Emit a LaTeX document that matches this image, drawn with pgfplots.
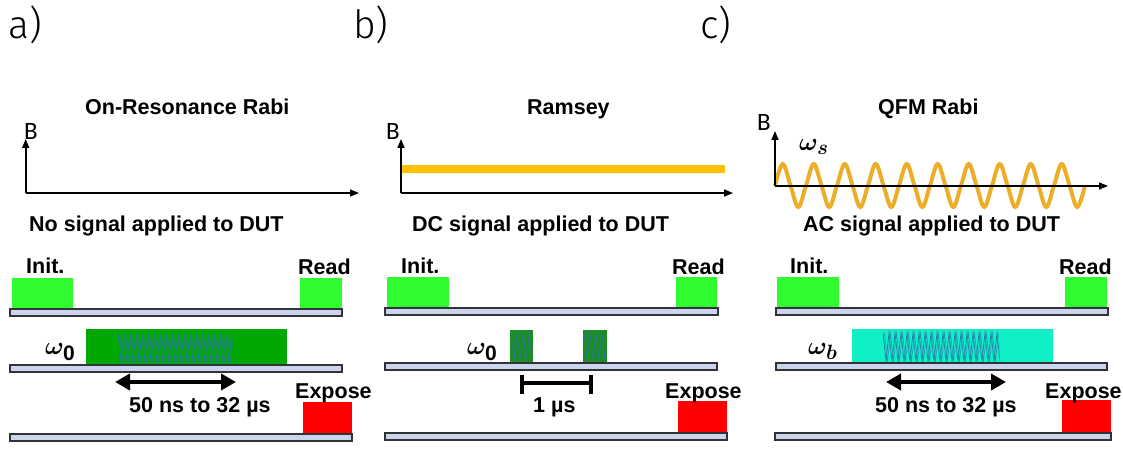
\documentclass[border=0pt]{standalone}
\usepackage{pgfplots}
\pgfplotsset{compat=1.18}
\usepackage{bm}
\usepackage{fontspec}
\setmainfont{Liberation Sans}
\newfontfamily\lightfont{Fira Sans Light}
\newfontfamily\bfont{Carlito}
\usetikzlibrary{arrows.meta}
\definecolor{ledg}{RGB}{48,250,48}
\definecolor{mwg}{RGB}{0,168,0}
\definecolor{mwc}{RGB}{16,240,198}
\definecolor{ramg}{RGB}{28,140,36}
\definecolor{osc}{RGB}{40,120,170}
\definecolor{barf}{RGB}{203,214,238}
\definecolor{bare}{RGB}{50,50,55}
\definecolor{dcor}{RGB}{255,192,0}
\definecolor{acor}{RGB}{236,174,40}
\newcommand\bt{\fontsize{21.5}{25}\selectfont\bfseries}
\newcommand\om{\fontsize{30}{34}\selectfont}
\newcommand\bb{\bfont\fontsize{25}{27}\selectfont B}
\begin{document}
\begin{tikzpicture}
\begin{axis}[hide axis, scale only axis, width=1123pt, height=449pt,
  xmin=0, xmax=1123, ymin=0, ymax=449, y dir=reverse, clip=false]
\addplot[draw=none] coordinates {(0,0) (1123,449)};
% panel labels
\node[anchor=base west, inner sep=0] at (axis cs:8,39) {\lightfont\fontsize{39}{42}\selectfont a)};
\node[anchor=base west, inner sep=0] at (axis cs:353,39) {\lightfont\fontsize{39}{42}\selectfont b)};
\node[anchor=base west, inner sep=0] at (axis cs:700,39) {\lightfont\fontsize{39}{42}\selectfont c)};
% titles
\node[anchor=base west, inner sep=0] at (axis cs:85,115) {\bt On-Resonance Rabi};
\node[anchor=base west, inner sep=0] at (axis cs:527,115) {\bt Ramsey};
\node[anchor=base west, inner sep=0] at (axis cs:878,115) {\bt QFM Rabi};
% B axes
\addplot[black, line width=1.6pt, -{Triangle[length=9pt,width=7pt]}] coordinates {(25.7,193) (25.7,139)};
\addplot[black, line width=1.6pt, -{Triangle[length=9pt,width=7pt]}] coordinates {(25.7,193) (359,193)};
\addplot[dcor, line width=8pt] coordinates {(401,169) (725,169)};
\addplot[black, line width=1.6pt, -{Triangle[length=9pt,width=7pt]}] coordinates {(401,193) (401,139)};
\addplot[black, line width=1.6pt, -{Triangle[length=9pt,width=7pt]}] coordinates {(401,193) (733,193)};
\addplot[acor, line width=4pt, smooth, tension=0.6] coordinates {
(775,185.5) (782.75,164) (790.5,185.5) (798.25,207) (806,185.5) (813.75,164) (821.5,185.5) (829.25,207)
(837,185.5) (844.75,164) (852.5,185.5) (860.25,207) (868,185.5) (875.75,164) (883.5,185.5) (891.25,207)
(899,185.5) (906.75,164) (914.5,185.5) (922.25,207) (930,185.5) (937.75,164) (945.5,185.5) (953.25,207)
(961,185.5) (968.75,164) (976.5,185.5) (984.25,207) (992,185.5) (999.75,164) (1007.5,185.5) (1015.25,207)
(1023,185.5) (1030.75,164) (1038.5,185.5) (1046.25,207) (1054,185.5) (1061.75,164) (1069.5,185.5) (1077.25,207)
(1085,185.5)};
\addplot[black, line width=1.6pt, -{Triangle[length=9pt,width=7pt]}] coordinates {(775,186) (775,131)};
\addplot[black, line width=1.6pt, -{Triangle[length=9pt,width=7pt]}] coordinates {(775,186) (1108,186)};
\node[anchor=base west, inner sep=0] at (axis cs:24,140) {\bb};
\node[anchor=base west, inner sep=0] at (axis cs:386,140) {\bb};
\node[anchor=base west, inner sep=0] at (axis cs:757,131) {\bb};
\node[anchor=base west, inner sep=0] at (axis cs:799,151) {\om$\bm{\omega}_{\bm{s}}$};
% subtitles
\node[anchor=base west, inner sep=0] at (axis cs:29,231) {\bt No signal applied to DUT};
\node[anchor=base west, inner sep=0] at (axis cs:412,231) {\bt DC signal applied to DUT};
\node[anchor=base west, inner sep=0] at (axis cs:803,231) {\bt AC signal applied to DUT};
% ---------- panel a sequence
\addplot[fill=ledg, draw=none] coordinates {(12,278) (73,278) (73,309) (12,309)} --cycle;
\addplot[fill=ledg, draw=none] coordinates {(300,278) (342,278) (342,309) (300,309)} --cycle;
\addplot[fill=barf, draw=bare, line width=1.4pt] coordinates {(10,309) (342,309) (342,316) (10,316)} --cycle;
\addplot[fill=mwg, draw=none] coordinates {(86,329) (287,329) (287,365) (86,365)} --cycle;
\addplot[osc, line width=0.7pt] coordinates {(118,333)(121,362)(124,333)(127,362)(130,333)(133,362)(136,333)(139,362)(142,333)(145,362)(148,333)(151,362)(154,333)(157,362)(160,333)(163,362)(166,333)(169,362)(172,333)(175,362)(178,333)(181,362)(184,333)(187,362)(190,333)(193,362)(196,333)(199,362)(202,333)(205,362)(208,333)(211,362)(214,333)(217,362)(220,333)(223,362)(226,333)(229,362)(232,333)};
\addplot[osc!70!mwg, line width=0.6pt, xshift=1.5pt] coordinates {(118,333)(121,362)(124,333)(127,362)(130,333)(133,362)(136,333)(139,362)(142,333)(145,362)(148,333)(151,362)(154,333)(157,362)(160,333)(163,362)(166,333)(169,362)(172,333)(175,362)(178,333)(181,362)(184,333)(187,362)(190,333)(193,362)(196,333)(199,362)(202,333)(205,362)(208,333)(211,362)(214,333)(217,362)(220,333)(223,362)(226,333)(229,362)(232,333)};
\addplot[fill=barf, draw=bare, line width=1.4pt] coordinates {(10,365) (342,365) (342,372) (10,372)} --cycle;
\addplot[black, line width=4.5pt, {Triangle[length=15pt,width=16pt]}-{Triangle[length=15pt,width=16pt]}] coordinates {(115,382) (236,382)};
\addplot[fill=red, draw=none] coordinates {(303,402) (352,402) (352,434) (303,434)} --cycle;
\addplot[fill=barf, draw=bare, line width=1.4pt] coordinates {(10,434) (352,434) (352,441) (10,441)} --cycle;
\node[anchor=base west, inner sep=0] at (axis cs:26,273) {\bt Init.};
\node[anchor=base west, inner sep=0] at (axis cs:298,274) {\bt Read};
\node[anchor=base west, inner sep=0] at (axis cs:45,354) {\om$\bm{\omega}_{\mathbf{0}}$};
\node[anchor=base west, inner sep=0] at (axis cs:129,412) {\bt 50 ns to 32 µs};
\node[anchor=base west, inner sep=0] at (axis cs:295,398) {\bt Expose};
% ---------- panel b sequence
\addplot[fill=ledg, draw=none] coordinates {(387,277) (449,277) (449,308) (387,308)} --cycle;
\addplot[fill=ledg, draw=none] coordinates {(676,277) (717,277) (717,308) (676,308)} --cycle;
\addplot[fill=barf, draw=bare, line width=1.4pt] coordinates {(385,308) (718,308) (718,315) (385,315)} --cycle;
\addplot[fill=ramg, draw=none] coordinates {(510,330) (533,330) (533,363) (510,363)} --cycle;
\addplot[fill=ramg, draw=none] coordinates {(583,330) (607,330) (607,363) (583,363)} --cycle;
\addplot[osc, line width=0.6pt] coordinates {(511,333)(514,360)(517,333)(520,360)(523,333)(526,360)(529,333)(532,360)};
\addplot[osc, line width=0.6pt] coordinates {(584,333)(587,360)(590,333)(593,360)(596,333)(599,360)(602,333)(605,360)};
\addplot[fill=barf, draw=bare, line width=1.4pt] coordinates {(385,363) (717,363) (717,370) (385,370)} --cycle;
\addplot[black, line width=4.5pt] coordinates {(522,383) (591,383)};
\addplot[black, line width=4.5pt] coordinates {(522,375) (522,394)};
\addplot[black, line width=4.5pt] coordinates {(591,375) (591,394)};
\addplot[fill=red, draw=none] coordinates {(678,401) (727,401) (727,433) (678,433)} --cycle;
\addplot[fill=barf, draw=bare, line width=1.4pt] coordinates {(385,433) (727,433) (727,440) (385,440)} --cycle;
\node[anchor=base west, inner sep=0] at (axis cs:401,273) {\bt Init.};
\node[anchor=base west, inner sep=0] at (axis cs:672,274) {\bt Read};
\node[anchor=base west, inner sep=0] at (axis cs:467,354) {\om$\bm{\omega}_{\mathbf{0}}$};
\node[anchor=base west, inner sep=0] at (axis cs:533,412) {\bt 1 µs};
\node[anchor=base west, inner sep=0] at (axis cs:665,398) {\bt Expose};
% ---------- panel c sequence
\addplot[fill=ledg, draw=none] coordinates {(777,277) (839,277) (839,308) (777,308)} --cycle;
\addplot[fill=ledg, draw=none] coordinates {(1065,277) (1107,277) (1107,308) (1065,308)} --cycle;
\addplot[fill=barf, draw=bare, line width=1.4pt] coordinates {(776,308) (1108,308) (1108,315) (776,315)} --cycle;
\addplot[fill=mwc, draw=none] coordinates {(852,329) (1053,329) (1053,363) (852,363)} --cycle;
\addplot[osc, line width=0.7pt] coordinates {(883,333)(886,361)(889,333)(892,361)(895,333)(898,361)(901,333)(904,361)(907,333)(910,361)(913,333)(916,361)(919,333)(922,361)(925,333)(928,361)(931,333)(934,361)(937,333)(940,361)(943,333)(946,361)(949,333)(952,361)(955,333)(958,361)(961,333)(964,361)(967,333)(970,361)(973,333)(976,361)(979,333)(982,361)(985,333)(988,361)(991,333)(994,361)(997,333)(1000,361)};
\addplot[osc!70!mwc, line width=0.6pt, xshift=1.5pt] coordinates {(883,333)(886,361)(889,333)(892,361)(895,333)(898,361)(901,333)(904,361)(907,333)(910,361)(913,333)(916,361)(919,333)(922,361)(925,333)(928,361)(931,333)(934,361)(937,333)(940,361)(943,333)(946,361)(949,333)(952,361)(955,333)(958,361)(961,333)(964,361)(967,333)(970,361)(973,333)(976,361)(979,333)(982,361)(985,333)(988,361)(991,333)(994,361)(997,333)};
\addplot[fill=barf, draw=bare, line width=1.4pt] coordinates {(776,363) (1107,363) (1107,370) (776,370)} --cycle;
\addplot[black, line width=4.5pt, {Triangle[length=15pt,width=16pt]}-{Triangle[length=15pt,width=16pt]}] coordinates {(886,382) (1006,382)};
\addplot[fill=red, draw=none] coordinates {(1062,400) (1111,400) (1111,433) (1062,433)} --cycle;
\addplot[fill=barf, draw=bare, line width=1.4pt] coordinates {(775,433) (1111,433) (1111,440) (775,440)} --cycle;
\node[anchor=base west, inner sep=0] at (axis cs:790,273) {\bt Init.};
\node[anchor=base west, inner sep=0] at (axis cs:1059,274) {\bt Read};
\node[anchor=base west, inner sep=0] at (axis cs:808,354) {\om$\bm{\omega}_{\bm{b}}$};
\node[anchor=base west, inner sep=0] at (axis cs:875,412) {\bt 50 ns to 32 µs};
\node[anchor=base west, inner sep=0] at (axis cs:1045,398) {\bt Expose};
\end{axis}
\end{tikzpicture}
\end{document}
